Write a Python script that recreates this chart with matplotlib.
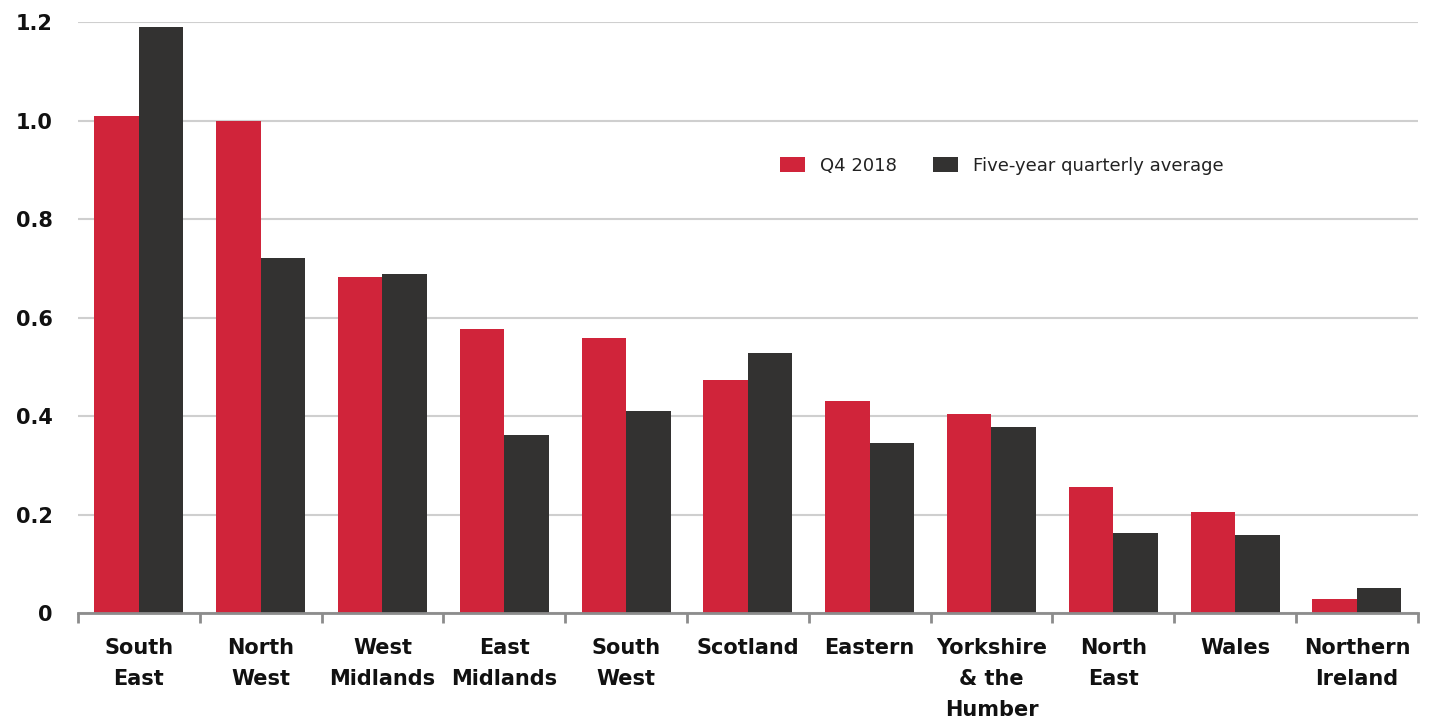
import matplotlib.pyplot as plt
import numpy as np

regions = ['South\nEast', 'North\nWest', 'West\nMidlands', 'East\nMidlands', 'South\nWest',
           'Scotland', 'Eastern', 'Yorkshire\n& the\nHumber', 'North\nEast', 'Wales',
           'Northern\nIreland']
q4_2018 = [1.01, 1.00, 0.683, 0.577, 0.559, 0.474, 0.431, 0.405, 0.255, 0.206, 0.029]
five_year_avg = [1.19, 0.72, 0.688, 0.362, 0.41, 0.528, 0.346, 0.378, 0.163, 0.158, 0.051]
yticks = [0, 0.2, 0.4, 0.6, 0.8, 1.0, 1.2]
ytick_labels = ['0', '0.2', '0.4', '0.6', '0.8', '1.0', '1.2']

red = '#d0243a'
dark = '#333231'

fig = plt.figure(figsize=(14.33, 7.19), dpi=100)
ax = fig.add_axes([0.0544, 0.1474, 0.935, 0.822])

x = np.arange(len(regions))
width = 0.365
ax.bar(x - width / 2, q4_2018, width, color=red, label='Q4 2018', zorder=3)
ax.bar(x + width / 2, five_year_avg, width, color=dark, label='Five-year quarterly average', zorder=3)

ax.set_xlim(-0.5, len(regions) - 0.5)
ax.set_ylim(0, 1.2)

# gridlines
ax.set_yticks(yticks)
ax.set_yticklabels(ytick_labels, fontsize=15, fontweight='bold', color='#111111')
ax.yaxis.grid(True, color='#cfcfcf', linewidth=1.5, zorder=0)
ax.tick_params(axis='y', length=0, pad=18)

# boundary ticks (major) and labels at centers (minor)
ax.set_xticks(np.arange(-0.5, len(regions), 1.0))
ax.set_xticklabels([])
ax.set_xticks(x, minor=True)
ax.set_xticklabels(regions, minor=True, fontsize=15, fontweight='bold', color='#111111',
                   va='top', linespacing=1.7)
ax.tick_params(axis='x', which='major', length=7, width=2, color='#8c8c8c', direction='out')
ax.tick_params(axis='x', which='minor', length=0, pad=18)

for s in ['top', 'right', 'left']:
    ax.spines[s].set_visible(False)
ax.spines['bottom'].set_color('#8c8c8c')
ax.spines['bottom'].set_linewidth(2)
ax.spines['bottom'].set_zorder(4)

ax.legend(loc='center left', bbox_to_anchor=(0.512, 0.757), ncol=2, frameon=False,
          fontsize=13, handlelength=1.4, handleheight=0.95, columnspacing=2.0,
          handletextpad=0.8, labelcolor='#222222')

fig.savefig('out.png', dpi=100)
